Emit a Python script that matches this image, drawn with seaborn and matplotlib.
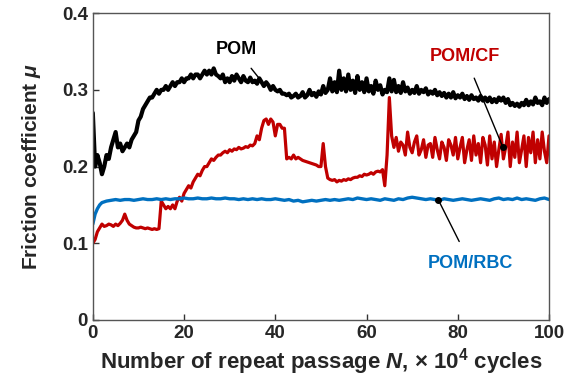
import matplotlib
matplotlib.use("Agg")
import matplotlib.pyplot as plt
import seaborn as sns
import numpy as np
import pandas as pd

sns.set_style("ticks")
plt.rcParams['font.family'] = ['Liberation Sans', 'DejaVu Sans']
plt.rcParams['font.weight'] = 'bold'
plt.rcParams['mathtext.fontset'] = 'custom'
plt.rcParams['mathtext.it'] = 'Liberation Sans:italic:bold'
plt.rcParams['mathtext.rm'] = 'Liberation Sans:bold'

# Data (friction coefficient vs. cycles, x 10^4)
x_half = np.arange(0, 100.5, 0.5)

pom = [
    0.270, 0.200, 0.215, 0.205, 0.190, 0.200, 0.215, 0.210, 0.225, 0.235,
    0.245, 0.225, 0.230, 0.220, 0.225, 0.230, 0.225, 0.235, 0.240, 0.245,
    0.260, 0.265, 0.275, 0.280, 0.285, 0.290, 0.290, 0.295, 0.300, 0.295,
    0.300, 0.300, 0.305, 0.300, 0.305, 0.310, 0.305, 0.310, 0.310, 0.315,
    0.310, 0.315, 0.315, 0.320, 0.315, 0.320, 0.320, 0.315, 0.320, 0.325,
    0.320, 0.325, 0.320, 0.328, 0.320, 0.318, 0.315, 0.320, 0.310, 0.315,
    0.310, 0.318, 0.312, 0.320, 0.315, 0.310, 0.318, 0.312, 0.310, 0.316,
    0.310, 0.312, 0.308, 0.315, 0.310, 0.305, 0.310, 0.306, 0.300, 0.305,
    0.300, 0.298, 0.300, 0.295, 0.295, 0.293, 0.295, 0.290, 0.292, 0.295,
    0.290, 0.292, 0.297, 0.290, 0.293, 0.300, 0.293, 0.296, 0.291, 0.298,
    0.294, 0.305, 0.296, 0.300, 0.315, 0.298, 0.310, 0.297, 0.325, 0.300,
    0.315, 0.298, 0.320, 0.300, 0.312, 0.296, 0.318, 0.300, 0.310, 0.297,
    0.315, 0.298, 0.305, 0.295, 0.312, 0.300, 0.306, 0.294, 0.300, 0.297,
    0.315, 0.298, 0.313, 0.297, 0.305, 0.296, 0.310, 0.298, 0.303, 0.295,
    0.300, 0.296, 0.305, 0.295, 0.300, 0.297, 0.302, 0.294, 0.298, 0.295,
    0.300, 0.293, 0.297, 0.292, 0.296, 0.290, 0.295, 0.290, 0.297, 0.289,
    0.293, 0.290, 0.295, 0.288, 0.292, 0.287, 0.293, 0.288, 0.290, 0.286,
    0.292, 0.286, 0.290, 0.285, 0.290, 0.284, 0.288, 0.284, 0.290, 0.286,
    0.290, 0.283, 0.288, 0.280, 0.283, 0.279, 0.282, 0.278, 0.283, 0.280,
    0.287, 0.280, 0.285, 0.281, 0.290, 0.283, 0.285, 0.280, 0.290, 0.283,
    0.288,
]

pom_cf = [
    0.100, 0.105, 0.115, 0.120, 0.125, 0.122, 0.123, 0.125, 0.124, 0.122,
    0.125, 0.123, 0.126, 0.130, 0.138, 0.130, 0.125, 0.123, 0.121, 0.120,
    0.120, 0.121, 0.120, 0.119, 0.120, 0.119, 0.118, 0.119, 0.118, 0.119,
    0.155, 0.150, 0.145, 0.148, 0.145, 0.150, 0.145, 0.155, 0.160, 0.155,
    0.165, 0.170, 0.175, 0.172, 0.180, 0.185, 0.190, 0.188, 0.195, 0.200,
    0.200, 0.205, 0.210, 0.208, 0.212, 0.215, 0.215, 0.218, 0.220, 0.218,
    0.222, 0.220, 0.223, 0.222, 0.225, 0.223, 0.224, 0.226, 0.225, 0.228,
    0.227, 0.230, 0.240, 0.235, 0.250, 0.260, 0.262, 0.255, 0.262, 0.258,
    0.240, 0.255, 0.255, 0.250, 0.250, 0.210, 0.212, 0.210, 0.215, 0.210,
    0.212, 0.210, 0.208, 0.207, 0.206, 0.205, 0.204, 0.203, 0.202, 0.200,
    0.200, 0.230, 0.200, 0.185, 0.183, 0.182, 0.183, 0.180, 0.182, 0.181,
    0.183, 0.182, 0.184, 0.183, 0.185, 0.186, 0.186, 0.188, 0.187, 0.190,
    0.189, 0.190, 0.192, 0.190, 0.193, 0.194, 0.193, 0.196, 0.175, 0.215,
    0.290, 0.240, 0.225, 0.238, 0.220, 0.232, 0.228, 0.215, 0.245, 0.225,
    0.218, 0.232, 0.240, 0.215, 0.222, 0.235, 0.212, 0.228, 0.230, 0.212,
    0.238, 0.222, 0.210, 0.232, 0.225, 0.208, 0.235, 0.228, 0.215, 0.238,
    0.210, 0.225, 0.238, 0.205, 0.222, 0.235, 0.208, 0.240, 0.215, 0.230,
    0.205, 0.238, 0.228, 0.202, 0.240, 0.210, 0.232, 0.200, 0.222, 0.242,
    0.210, 0.225, 0.245, 0.200, 0.232, 0.212, 0.245, 0.205, 0.222, 0.240,
    0.200, 0.238, 0.218, 0.245, 0.205, 0.235, 0.210, 0.245, 0.220, 0.205,
    0.240,
]

x_rbc = [0, 0.5, 1, 1.5, 2] + list(range(3, 101))
pom_rbc = [
    0.125, 0.138, 0.145, 0.150, 0.153,
    0.155, 0.156, 0.157, 0.156, 0.157, 0.157, 0.156, 0.157, 0.158, 0.157,
    0.157, 0.158, 0.157, 0.158, 0.157, 0.158, 0.158, 0.159, 0.158, 0.158,
    0.159, 0.158, 0.158, 0.159, 0.158, 0.158, 0.159, 0.158, 0.158, 0.157,
    0.158, 0.157, 0.158, 0.157, 0.158, 0.157, 0.157, 0.158, 0.157, 0.156,
    0.157, 0.155, 0.156, 0.154, 0.155, 0.156, 0.155, 0.156, 0.157, 0.156,
    0.157, 0.156, 0.157, 0.158, 0.157, 0.159, 0.158, 0.157, 0.158, 0.157,
    0.156, 0.158, 0.157, 0.156, 0.158, 0.157, 0.159, 0.160, 0.159, 0.158,
    0.157, 0.158, 0.157, 0.156, 0.158, 0.157, 0.156, 0.157, 0.158, 0.157,
    0.156, 0.157, 0.158, 0.157, 0.156, 0.158, 0.159, 0.157, 0.158, 0.157,
    0.159, 0.157, 0.158, 0.157, 0.156, 0.158, 0.159, 0.157,
]

xticks = [0, 20, 40, 60, 80, 100]
yticks = [0, 0.1, 0.2, 0.3, 0.4]

fig = plt.figure(figsize=(5.66, 3.76), dpi=100)
ax = fig.add_axes([0.164, 0.149, 0.806, 0.816])

sns.lineplot(x=x_half, y=pom, ax=ax, color='black', lw=3.0, sort=False, estimator=None)
sns.lineplot(x=x_half, y=pom_cf, ax=ax, color='#C00000', lw=2.3, sort=False, estimator=None)
sns.lineplot(x=x_rbc, y=pom_rbc, ax=ax, color='#0070C0', lw=2.4, sort=False, estimator=None)

ax.set_xlim(0, 100)
ax.set_ylim(0, 0.4)
ax.set_xticks(xticks)
ax.set_yticks(yticks)
ax.set_yticklabels(['0', '0.1', '0.2', '0.3', '0.4'])
ax.tick_params(direction='in', labelsize=13.5, length=4, width=1, color='#333333')
for lab in ax.get_xticklabels() + ax.get_yticklabels():
    lab.set_fontweight('bold')
for s in ax.spines.values():
    s.set_color('#555555')
    s.set_linewidth(1.0)

ax.set_xlabel(r'Number of repeat passage $N$, × 10$^4$ cycles', fontsize=16, fontweight='bold', labelpad=3)
ax.set_ylabel(r'Friction coefficient $\mu$', fontsize=15, fontweight='bold', labelpad=14)

# Labels with leader lines
ax.annotate('POM', xy=(36.6, 0.314), xytext=(31.5, 0.352), fontsize=13, fontweight='bold',
            color='black', ha='center', va='center',
            arrowprops=dict(arrowstyle='-', color='black', lw=1, shrinkA=6, shrinkB=0))
ax.annotate('POM/CF', xy=(89.9, 0.225), xytext=(81.6, 0.344), fontsize=13, fontweight='bold',
            color='#C00000', ha='center', va='center',
            arrowprops=dict(arrowstyle='-', color='black', lw=1, shrinkA=8, shrinkB=0))
ax.annotate('POM/RBC', xy=(75.7, 0.157), xytext=(82.7, 0.074), fontsize=13, fontweight='bold',
            color='#0070C0', ha='center', va='center',
            arrowprops=dict(arrowstyle='-', color='black', lw=1, shrinkA=8, shrinkB=0))
ax.plot([89.9, 75.7], [0.225, 0.157], 'o', color='black', ms=4)

fig.savefig('out.png', dpi=100)
